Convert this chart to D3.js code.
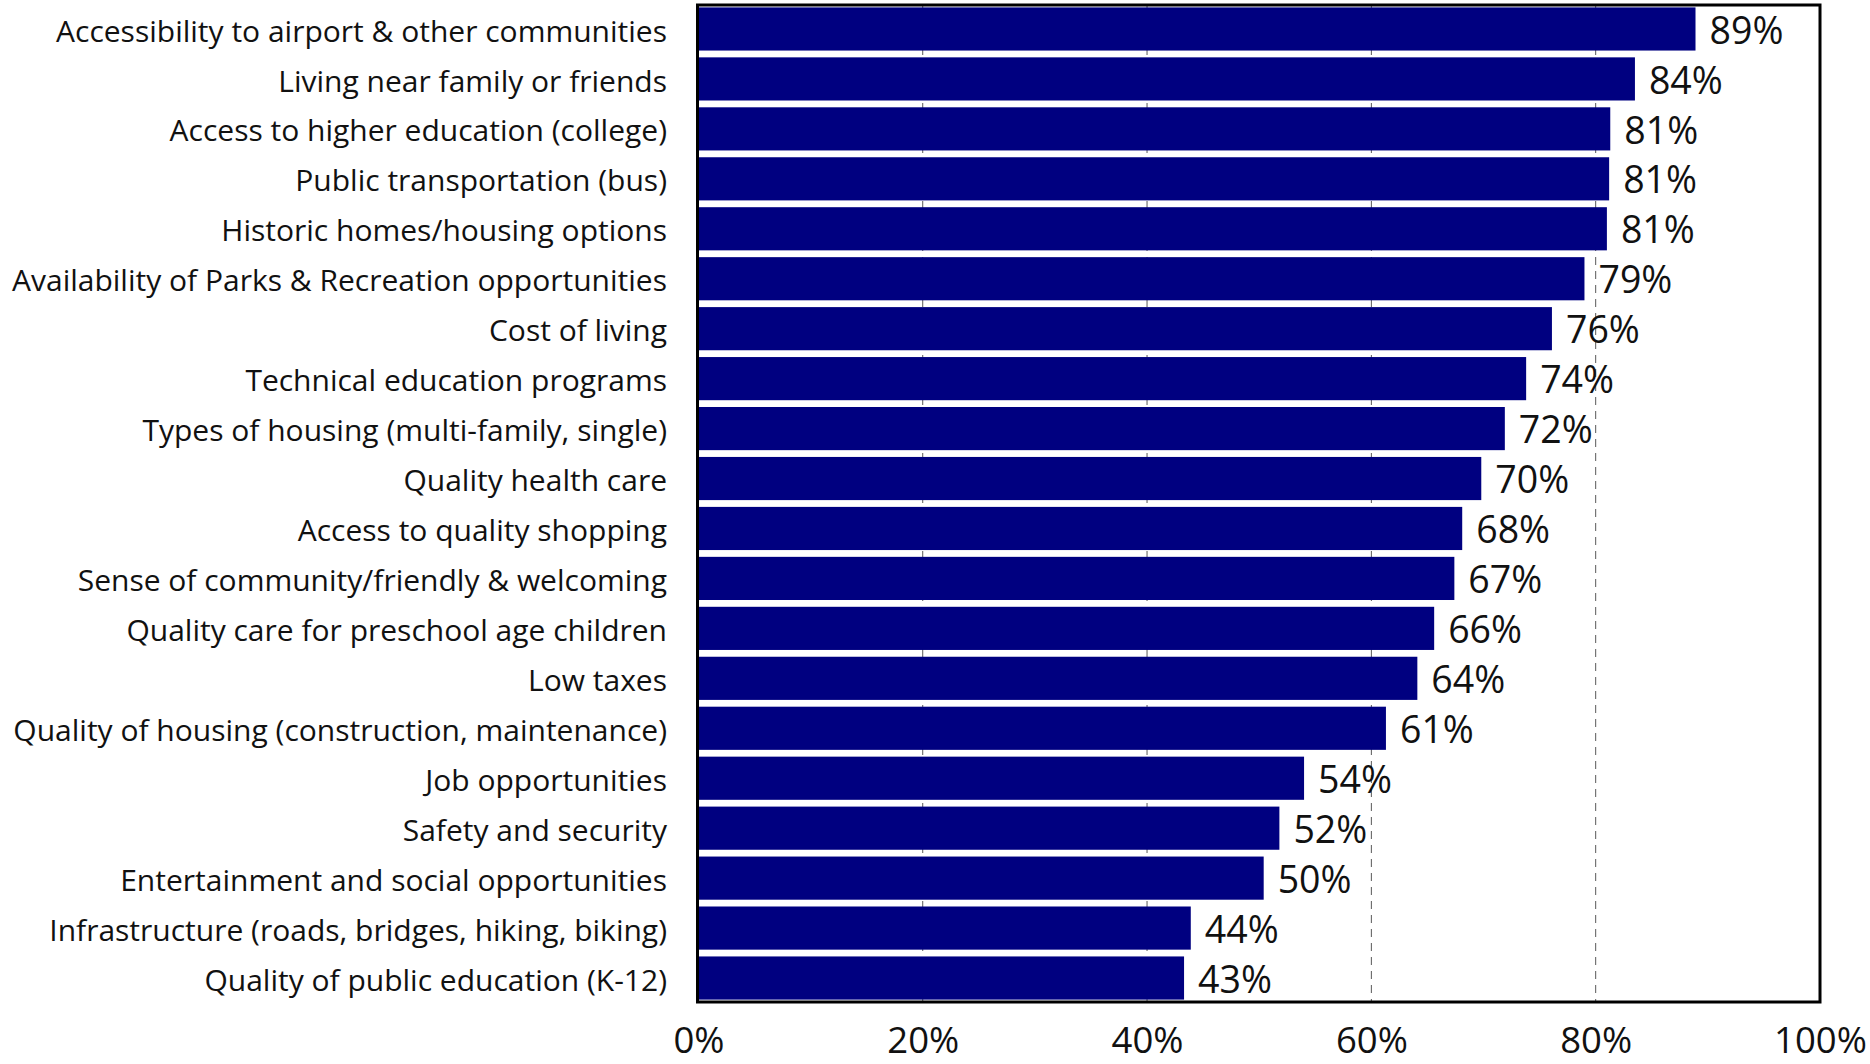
<!DOCTYPE html>
<html>
<head>
<meta charset="utf-8">
<script src="https://cdn.jsdelivr.net/npm/d3@7"></script>
<style>
  html, body { margin: 0; padding: 0; background: #fff; }
  svg { display: block; }
  text { font-family: "Open Sans", Lato, sans-serif; fill: #111; }
</style>
</head>
<body>
<svg id="chart" width="1870" height="1064"></svg>
<script>
const categories = [
  "Accessibility to airport & other communities",
  "Living near family or friends",
  "Access to higher education (college)",
  "Public transportation (bus)",
  "Historic homes/housing options",
  "Availability of Parks & Recreation opportunities",
  "Cost of living",
  "Technical education programs",
  "Types of housing (multi-family, single)",
  "Quality health care",
  "Access to quality shopping",
  "Sense of community/friendly & welcoming",
  "Quality care for preschool age children",
  "Low taxes",
  "Quality of housing (construction, maintenance)",
  "Job opportunities",
  "Safety and security",
  "Entertainment and social opportunities",
  "Infrastructure (roads, bridges, hiking, biking)",
  "Quality of public education (K-12)"
];
const values = [0.889, 0.835, 0.813, 0.812, 0.810, 0.790, 0.761, 0.738, 0.719, 0.698,
                0.681, 0.674, 0.656, 0.641, 0.613, 0.540, 0.518, 0.504, 0.439, 0.433];
const valueLabels = ["89%","84%","81%","81%","81%","79%","76%","74%","72%","70%",
                     "68%","67%","66%","64%","61%","54%","52%","50%","44%","43%"];
const xTicks = [0, 0.2, 0.4, 0.6, 0.8, 1.0];
const gridTicks = [0.2, 0.4, 0.6, 0.8];

const data = categories.map((c, i) => ({ cat: c, v: values[i], label: valueLabels[i] }));

const svg = d3.select("#chart");
const plotLeft = 698.4, plotRight = 1820, plotTop = 5, plotBottom = 1002;

const x = d3.scaleLinear().domain([0, 1]).range([plotLeft, plotRight]);
const y = d3.scaleBand().domain(categories).range([4, 1003]).paddingInner(0.136).paddingOuter(0.068);

// gridlines
svg.append("g").selectAll("line").data(gridTicks).join("line")
  .attr("x1", d => x(d)).attr("x2", d => x(d))
  .attr("y1", plotTop).attr("y2", plotBottom)
  .attr("stroke", "#595959").attr("stroke-width", 1)
  .attr("stroke-dasharray", "8,6");

// bars
svg.append("g").selectAll("rect").data(data).join("rect")
  .attr("x", x(0))
  .attr("y", d => y(d.cat))
  .attr("width", d => x(d.v) - x(0))
  .attr("height", y.bandwidth())
  .attr("fill", "#000080");

// value labels
svg.append("g").selectAll("text").data(data).join("text")
  .attr("x", d => x(d.v) + 14)
  .attr("y", d => y(d.cat) + y.bandwidth() / 2)
  .attr("dy", "0.39em")
  .style("font-size", "37.5px")
  .text(d => d.label);

// category labels
svg.append("g").selectAll("text").data(data).join("text")
  .attr("x", 667)
  .attr("y", d => y(d.cat) + y.bandwidth() / 2)
  .attr("dy", "0.42em")
  .attr("text-anchor", "end")
  .style("font-size", "30px")
  .text(d => d.cat);

// frame
svg.append("rect")
  .attr("x", 697.5).attr("y", plotTop)
  .attr("width", plotRight - 697.5).attr("height", plotBottom - plotTop)
  .attr("fill", "none").attr("stroke", "#000").attr("stroke-width", 3);

// x axis
const xAxis = d3.axisBottom(x).tickValues(xTicks).tickFormat(d3.format(".0%")).tickSize(0).tickPadding(25);
const gx = svg.append("g").attr("transform", `translate(0,${plotBottom})`).call(xAxis);
gx.select(".domain").remove();
gx.selectAll("text").style("font-size", "36.5px").style("font-family", "'Open Sans', Lato, sans-serif").attr("fill", "#111");
</script>
</body>
</html>
